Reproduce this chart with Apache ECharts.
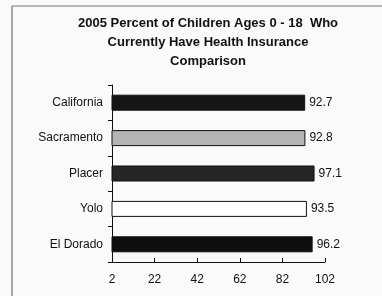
<!DOCTYPE html>
<html>
<head>
<meta charset="utf-8">
<style>
html,body{margin:0;padding:0;background:#fafafa;}
#chart{width:382px;height:296px;}
</style>
<script src="https://cdn.jsdelivr.net/npm/echarts@6/dist/echarts.min.js"></script>
</head>
<body>
<div id="chart"></div>
<script>
var counties = ['California', 'Sacramento', 'Placer', 'Yolo', 'El Dorado'];
var percents = [92.7, 92.8, 97.1, 93.5, 96.2];
var fills = ['#161616', '#b4b4b4', '#262626', '#ffffff', '#0e0e0e'];
var xTicks = [2, 22, 42, 62, 82, 102];

var chart = echarts.init(document.getElementById('chart'));

// ECharts draws categories bottom-up, so flip for reading order
var cats = counties.slice().reverse();
var data = [];
for (var i = counties.length - 1; i >= 0; i--) {
    data.push({
        value: percents[i],
        itemStyle: {color: fills[i], borderColor: '#111', borderWidth: 1}
    });
}

var option = {
    backgroundColor: '#fafafa',
    animation: false,
    title: {
        text: '2005 Percent of Children Ages 0 - 18  Who\nCurrently Have Health Insurance\nComparison',
        left: 203,
        top: 9,
        textAlign: 'center',
        textStyle: {
            fontFamily: 'Liberation Sans',
            fontSize: 13,
            fontWeight: 'bold',
            color: '#111',
            lineHeight: 19
        }
    },
    graphic: [
        {type: 'line', shape: {x1: 12, y1: 6, x2: 12, y2: 296}, style: {stroke: '#555', lineWidth: 1}},
        {type: 'line', shape: {x1: 12, y1: 6, x2: 382, y2: 6}, style: {stroke: '#777', lineWidth: 1}}
    ],
    grid: {left: 112, right: 57, top: 85, bottom: 34},
    xAxis: {
        type: 'value',
        min: xTicks[0],
        max: xTicks[xTicks.length - 1],
        interval: 20,
        splitLine: {show: false},
        axisLine: {show: true, lineStyle: {color: '#111'}},
        axisTick: {show: true, length: 4, inside: true, lineStyle: {color: '#111'}},
        axisLabel: {fontFamily: 'Liberation Sans', fontSize: 12, color: '#111', margin: 12}
    },
    yAxis: {
        type: 'category',
        data: cats,
        axisLine: {lineStyle: {color: '#111'}},
        axisTick: {show: true, length: 4, lineStyle: {color: '#111'}},
        axisLabel: {fontFamily: 'Liberation Sans', fontSize: 12, color: '#111', margin: 9}
    },
    series: [{
        type: 'bar',
        data: data,
        barWidth: 16,
        label: {
            show: true,
            position: 'right',
            distance: 4,
            fontFamily: 'Liberation Sans',
            fontSize: 12,
            color: '#111'
        }
    }]
};
chart.setOption(option);
</script>
</body>
</html>
